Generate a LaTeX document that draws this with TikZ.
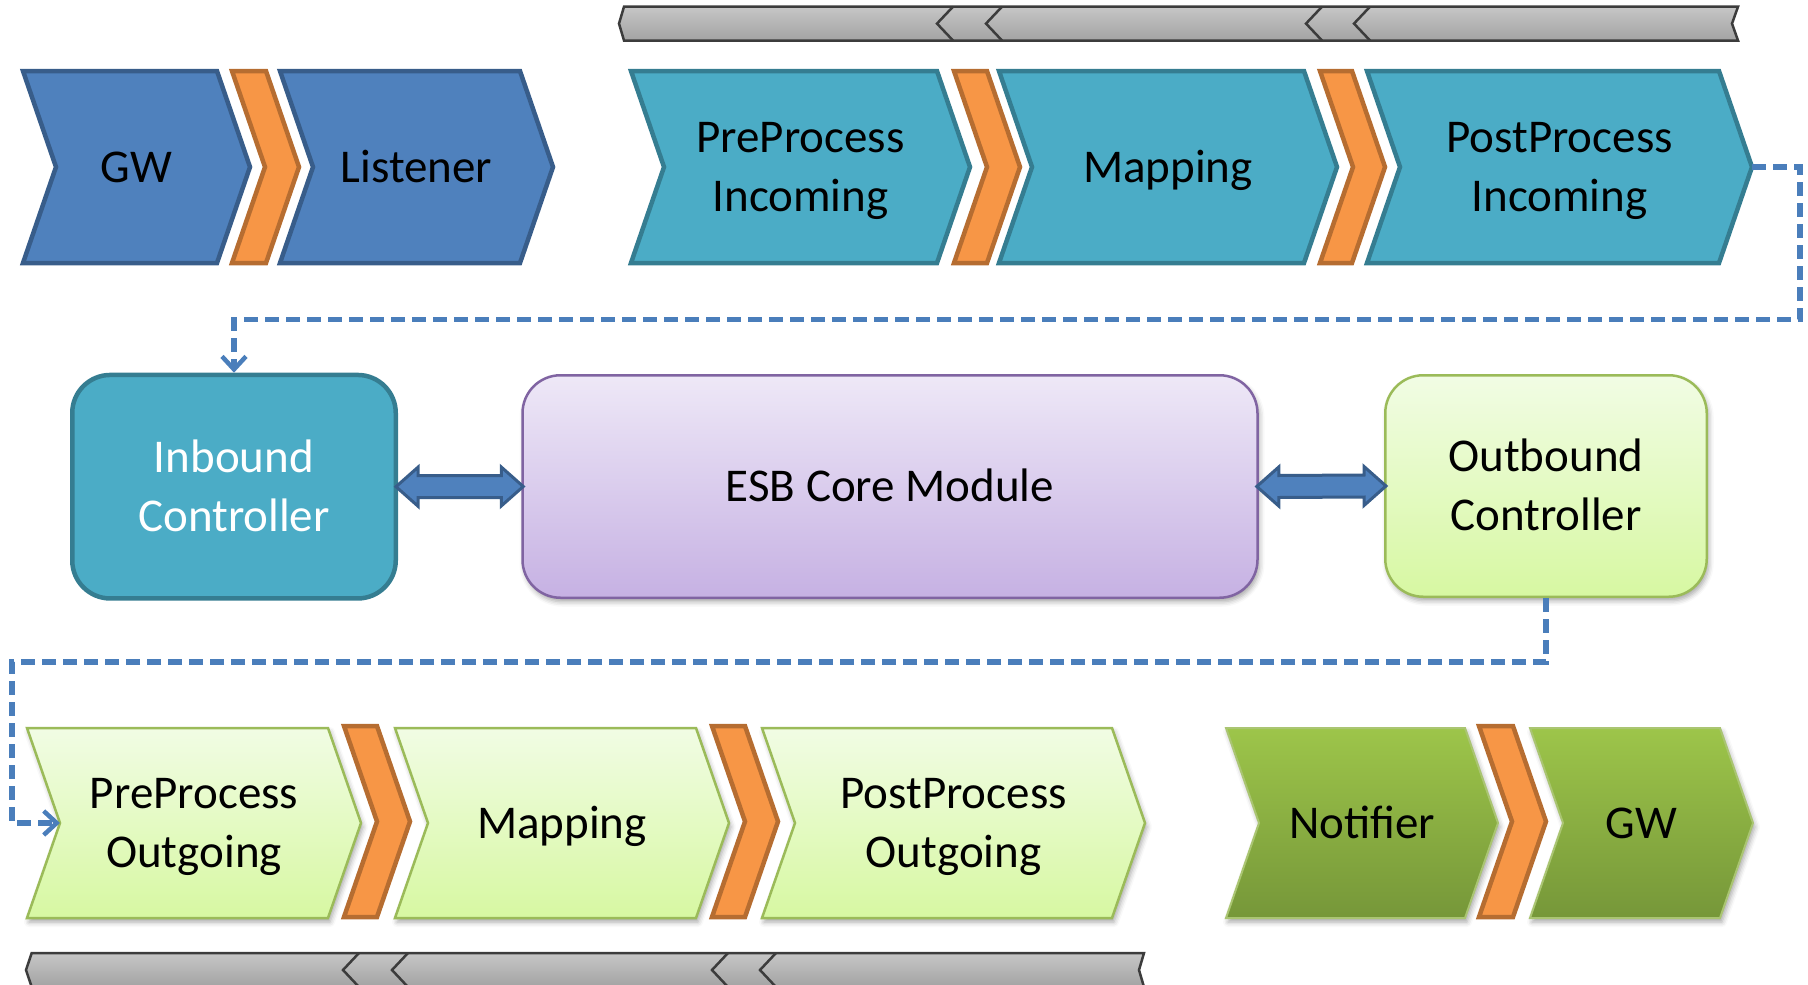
\documentclass[tikz,border=0pt]{standalone}
\usepackage{fontspec}
\setmainfont{Carlito}
\usetikzlibrary{arrows.meta,calc,shadows.blur}
\definecolor{oblue}{HTML}{4F81BD}
\definecolor{obluedk}{HTML}{385D8A}
\definecolor{oteal}{HTML}{4BACC6}
\definecolor{otealdk}{HTML}{357D91}
\definecolor{oorange}{HTML}{F79646}
\definecolor{oorangedk}{HTML}{B66D31}
\definecolor{lgtop}{HTML}{F1FCE4}
\definecolor{lgbot}{HTML}{D7F8A2}
\definecolor{lgline}{HTML}{9BBB59}
\definecolor{dgtop}{HTML}{9DC54A}
\definecolor{dgbot}{HTML}{769739}
\definecolor{putop}{HTML}{EEE8F7}
\definecolor{pubot}{HTML}{C6B1E3}
\definecolor{puline}{HTML}{8064A2}
\definecolor{grtop}{HTML}{C6C6C6}
\definecolor{grbot}{HTML}{A3A3A3}
\definecolor{grline}{HTML}{3C3C3C}
\definecolor{dashc}{HTML}{4A7EBB}
\newcommand\capline[1]{\rule{0pt}{30pt}\smash{#1}}
\newcommand\chev[7]{%
  \draw[#2] (#3,#5) -- (#4,#5) -- ({#4+33},{(#5+#6)/2}) -- (#4,#6) -- (#3,#6) -- ({#3+33},{(#5+#6)/2}) -- cycle;
  \coordinate (#1-tip) at ({#4+33},{(#5+#6)/2});
  \coordinate (#1-notch) at ({#3+33},{(#5+#6)/2});
  \node[lbl] (#1) at ({(#3+#4+33)/2},{(#5+#6)/2}) {#7};
}
\tikzset{
  lbl/.style={align=center, inner sep=0pt, text=black},
  shad/.style={blur shadow={shadow xshift=2pt, shadow yshift=-4pt, shadow blur radius=5pt, shadow opacity=35}},
  bluechev/.style={fill=oblue, draw=obluedk, line width=4.5pt},
  tealchev/.style={fill=oteal, draw=otealdk, line width=4.5pt},
  orchev/.style={fill=oorange, draw=oorangedk, line width=4.5pt},
  lgchev/.style={shad, top color=lgtop, bottom color=lgbot, draw=lgline, line width=2.5pt},
  dgchev/.style={shad, top color=dgtop, bottom color=dgbot, draw=lgline!85!white, line width=2pt},
  graybar/.style={top color=grtop, bottom color=grbot, draw=grline, line width=2.5pt},
  grmark/.style={draw=grline, line width=2.5pt},
  rbox/.style={rectangle, rounded corners=38pt, inner sep=0pt, align=center},
  dashconn/.style={draw=dashc, line width=5.5pt, dash pattern=on 14pt off 7pt, -{Straight Barb[length=13pt,width=24pt,line width=4.5pt]}},
  dblarr/.style={fill=oblue, draw=obluedk, line width=3pt},
}
\begin{document}
\begin{tikzpicture}[x=1pt, y=-1pt, line join=miter, font=\fontsize{47}{59}\selectfont]
\useasboundingbox (0,0) rectangle (1808,985);
% top gray bar
\draw[graybar] (624,6.7) -- (1738,6.7) -- (1732,23.6) -- (1738,40.5) -- (624,40.5) -- (619,23.6) -- cycle;
\draw[grmark] (953,6.7) -- (937,23.6) -- (953,40.5);
\draw[grmark] (1002,6.7) -- (986,23.6) -- (1002,40.5);
\draw[grmark] (1322,6.7) -- (1306,23.6) -- (1322,40.5);
\draw[grmark] (1370,6.7) -- (1354,23.6) -- (1370,40.5);
% bottom gray bar
\draw[graybar] (31.7,953) -- (1144,953) -- (1139,970) -- (1144,987) -- (31.7,987) -- (26,970) -- cycle;
\draw[grmark] (359,953) -- (343,970) -- (359,987);
\draw[grmark] (408,953) -- (392,970) -- (408,987);
\draw[grmark] (728,953) -- (712,970) -- (728,987);
\draw[grmark] (776,953) -- (760,970) -- (776,987);
% top row
\chev{gwa}{bluechev}{23}{217}{71}{263}{\capline{GW}}
\chev{ora}{orchev}{232}{266}{71}{263}{}
\chev{lis}{bluechev}{280}{520}{71}{263}{\capline{Listener}}
\chev{ppi}{tealchev}{631}{937}{71}{263}{\capline{PreProcess}\\\capline{Incoming}}
\chev{orb}{orchev}{954}{987}{71}{263}{}
\chev{mpi}{tealchev}{999}{1304}{71}{263}{\capline{Mapping}}
\chev{orc}{orchev}{1320}{1352}{71}{263}{}
\chev{poi}{tealchev}{1367}{1719}{71}{263}{\capline{PostProcess}\\\capline{Incoming}}
% bottom row
\chev{ppo}{lgchev}{27}{328}{728}{918}{\capline{PreProcess}\\\capline{Outgoing}}
\chev{ord}{orchev}{344}{377}{726}{917}{}
\chev{mpo}{lgchev}{395}{696}{728}{918}{\capline{Mapping}}
\chev{ore}{orchev}{712}{745}{726}{917}{}
\chev{poo}{lgchev}{762}{1112}{728}{918}{\capline{PostProcess}\\\capline{Outgoing}}
\chev{ntf}{dgchev}{1226}{1465}{728}{918}{\capline{Notifier}}
\chev{orf}{orchev}{1479}{1513}{726}{917}{}
\chev{gwb}{dgchev}{1530}{1720}{728}{918}{\capline{GW}}
% middle boxes
\node[rbox, fill=oteal, draw=otealdk, line width=4.5pt, minimum width=323.5pt, minimum height=223.5pt, text=white] (inb) at (234,486.7) {\capline{Inbound}\\\capline{Controller}};
\node[rbox, shad, top color=putop, bottom color=pubot, draw=puline, line width=2.5pt, minimum width=735pt, minimum height=222.5pt] (esb) at (890,486.5) {\capline{ESB Core Module}};
\node[rbox, shad, top color=lgtop, bottom color=lgbot, draw=lgline, line width=2.5pt, minimum width=321.5pt, minimum height=221.5pt] (outb) at (1546,486) {\capline{Outbound}\\\capline{Controller}};
% double arrows
\draw[dblarr] ($(inb.east)+(-2,0)$) -- ++(22,-19.5) -- ++(0,8.5) -- ($(esb.west)+(-20,-11)$) -- ++(0,-8.5) -- ($(esb.west)+(2,0)$) -- ++(-22,19.5) -- ++(0,-8.5) -- ($(inb.east)+(20,11)$) -- ++(0,8.5) -- cycle;
\draw[dblarr] ($(esb.east)+(-2,0)$) -- ++(22,-19.5) -- ++(0,8.5) -- ($(outb.west)+(-20,-11)$) -- ++(0,-8.5) -- ($(outb.west)+(2,0)$) -- ++(-22,19.5) -- ++(0,-8.5) -- ($(esb.east)+(20,11)$) -- ++(0,8.5) -- cycle;
% dashed connectors
\draw[dashconn] (poi-tip) -- ++(48,0) |- ($(inb.north)+(0,-53)$) -- (inb.north);
\draw[dashconn] (outb.south) |- ($(ppo-notch)+(-48,-161)$) |- (ppo-notch);
\end{tikzpicture}
\end{document}
